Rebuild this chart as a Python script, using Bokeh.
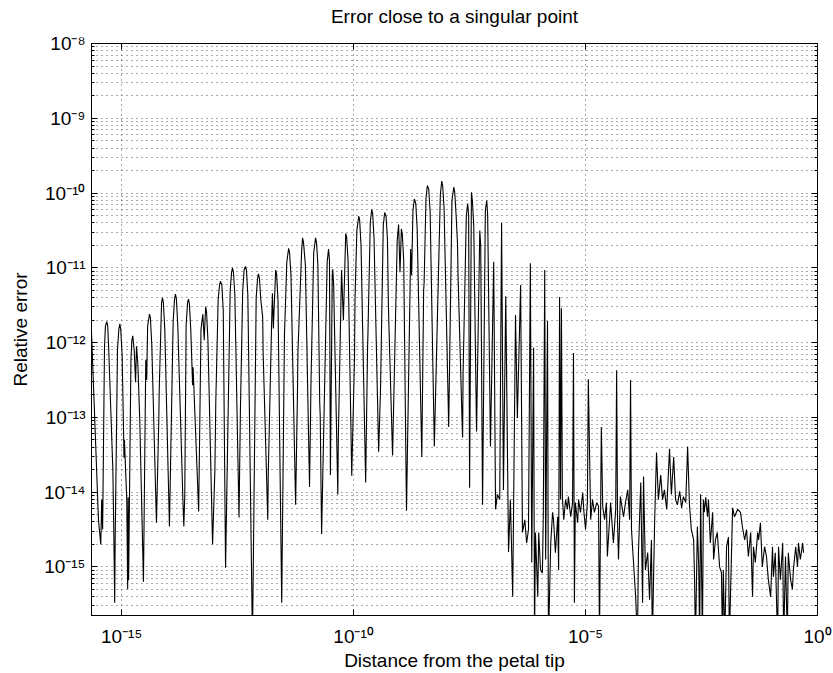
from bokeh.plotting import figure
from bokeh.models import FixedTicker, LogAxis, Range1d
from bokeh.embed import file_html
from bokeh.resources import INLINE

# ---- data (log10 of distance, log10 of relative error) ----
# oscillating part (distance < ~1e-6)
arch_dist_exp = [
    -15.65, -15.58, -15.50, -15.45, -15.43, -15.41, -15.37, -15.35, -15.32, -15.30, -15.28,
    -15.19, -15.17, -15.15, -15.14, -15.09, -15.06, -15.04, -15.02, -14.99,
    -14.96, -14.95, -14.94, -14.89, -14.87, -14.86, -14.85,
    -14.80, -14.78, -14.76, -14.73, -14.70, -14.68, -14.65, -14.61, -14.53,
    -14.48, -14.46, -14.44, -14.40, -14.38, -14.35, -14.25, -14.20, -14.19,
    -14.14, -14.12, -14.10, -14.07, -13.97, -13.89, -13.86, -13.84, -13.82, -13.79,
    -13.68, -13.66, -13.64, -13.61, -13.58, -13.56, -13.54, -13.51, -13.47, -13.46,
    -13.34, -13.29, -13.25, -13.22, -13.19, -13.17, -13.14, -13.04, -12.99, -12.97,
    -12.92, -12.89, -12.87, -12.84, -12.81, -12.76, -12.66, -12.63, -12.61, -12.59, -12.56,
    -12.47, -12.44, -12.39, -12.36, -12.33, -12.31, -12.28, -12.18,
    -12.10, -12.07, -12.05, -12.03, -12.00, -11.96, -11.95, -11.85, -11.84,
    -11.77, -11.75, -11.73, -11.68, -11.66, -11.63, -11.55, -11.49, -11.48,
    -11.44, -11.40, -11.38, -11.35, -11.25, -11.21, -11.20,
    -11.12, -11.10, -11.08, -11.04, -10.95, -10.93, -10.92,
    -10.86, -10.82, -10.80, -10.77, -10.73, -10.72, -10.69,
    -10.57, -10.54, -10.52, -10.50, -10.46, -10.45, -10.43, -10.34, -10.33,
    -10.26, -10.22, -10.17, -10.15, -10.12, -10.04, -9.98, -9.97,
    -9.93, -9.89, -9.87, -9.84, -9.74, -9.70, -9.69,
    -9.64, -9.61, -9.59, -9.56, -9.46, -9.42, -9.41,
    -9.36, -9.33, -9.30, -9.27, -9.25, -9.24, -9.16,
    -9.06, -9.03, -9.00, -8.97, -8.95, -8.92, -8.86,
    -8.78, -8.77, -8.75, -8.72, -8.69, -8.66, -8.63, -8.53, -8.49, -8.48,
    -8.44, -8.41, -8.38, -8.35, -8.26, -8.13, -8.10, -8.08, -8.05, -7.95,
    -7.88, -7.84, -7.82, -7.79, -7.76, -7.75, -7.67, -7.65, -7.64,
    -7.57, -7.54, -7.52, -7.50, -7.46, -7.44, -7.41, -7.35, -7.28, -7.26, -7.22,
    -7.16, -7.13, -7.11, -7.05, -6.98, -6.94, -6.90, -6.85, -6.81, -6.77, -6.72,
    -6.66, -6.62, -6.57, -6.51, -6.47, -6.40, -6.36, -6.31, -6.27, -6.23, -6.19,
    -6.16, -6.12,
]
arch_err_exp = [
    -11.86, -13.03, -14.37, -14.70, -14.10, -14.50, -12.07, -11.78, -11.72, -11.78, -12.07,
    -13.70, -14.50, -15.48, -14.64, -12.10, -11.82, -11.75, -11.82, -12.17,
    -13.14, -13.54, -13.30, -14.10, -15.30, -14.07, -15.18,
    -12.23, -11.97, -11.91, -12.10, -12.53, -12.05, -12.30, -13.03, -15.20,
    -12.23, -12.50, -11.78, -11.62, -11.67, -12.04, -14.41, -13.06, -12.63,
    -11.47, -11.40, -11.47, -11.83, -14.46, -11.72, -11.42, -11.35, -11.42, -11.77,
    -14.10, -14.46, -14.06, -11.77, -11.47, -11.42, -11.48, -11.83, -12.57, -12.33,
    -14.26, -11.83, -11.62, -11.97, -11.52, -11.59, -11.97, -14.70, -13.70, -12.77,
    -11.43, -11.23, -11.18, -11.23, -11.57, -15.01, -11.30, -11.06, -11.00, -11.06, -11.36,
    -14.34, -12.90, -11.30, -11.03, -10.98, -11.03, -11.36, -16.00,
    -11.40, -11.14, -11.08, -11.14, -11.43, -11.66, -12.14, -14.37, -13.77,
    -11.81, -11.34, -11.81, -11.03, -11.08, -11.43, -15.48, -11.88, -11.70,
    -10.92, -10.74, -10.80, -11.10, -14.17, -12.67, -12.13,
    -10.77, -10.60, -10.66, -10.96, -13.93, -13.06, -12.57,
    -10.80, -10.60, -10.66, -10.96, -12.81, -12.97, -14.56,
    -10.92, -10.75, -10.90, -13.77, -11.10, -11.02, -11.23, -14.03, -13.30,
    -11.03, -11.70, -10.54, -10.59, -10.90, -13.78, -12.19, -11.43,
    -10.50, -10.31, -10.36, -10.70, -13.87, -12.10, -11.86,
    -10.39, -10.22, -10.27, -10.60, -13.46, -12.63, -12.26,
    -10.43, -10.26, -10.31, -10.63, -11.50, -11.74, -13.51,
    -10.63, -10.42, -11.06, -10.48, -10.55, -10.90, -14.25,
    -11.16, -10.75, -11.10, -10.23, -10.08, -10.14, -10.47, -13.53, -11.30, -11.20,
    -10.07, -9.90, -9.95, -10.26, -13.39, -10.02, -9.84, -9.90, -10.20, -13.13,
    -10.10, -9.92, -9.99, -10.30, -10.68, -11.06, -12.87, -13.27, -12.41,
    -10.30, -10.14, -10.30, -13.94, -9.99, -10.10, -10.43, -13.19, -10.50, -10.70, -14.17,
    -10.23, -10.10, -10.30, -13.39, -10.92, -14.23, -14.03, -14.10, -10.40, -13.97, -11.38,
    -14.80, -14.10, -15.40, -11.63, -13.01, -11.23, -14.54, -14.37, -14.68, -14.50, -10.94,
    -14.94, -12.07,
]
# noisy part (distance > ~1e-6)
noise_dist_exp = [
    -6.10, -6.08, -6.03, -6.01, -5.97, -5.93, -5.91, -5.88, -5.86, -5.82, -5.80,
    -5.75, -5.71, -5.69, -5.65, -5.60, -5.58, -5.56, -5.54, -5.52, -5.50, -5.47,
    -5.43, -5.39, -5.37, -5.32, -5.28, -5.26, -5.24, -5.22, -5.17, -5.15, -5.11,
    -5.06, -5.04, -5.00, -4.96, -4.94, -4.89, -4.85, -4.81, -4.76, -4.72, -4.70,
    -4.66, -4.63, -4.59, -4.55, -4.53, -4.46, -4.40, -4.35, -4.33, -4.31, -4.29,
    -4.25, -4.18, -4.14, -4.09, -4.05, -4.03, -4.01, -3.97, -3.92, -3.88, -3.86,
    -3.81, -3.77, -3.75, -3.71, -3.66, -3.62, -3.58, -3.56, -3.51, -3.47, -3.43,
    -3.38, -3.34, -3.30, -3.25, -3.19, -3.15, -3.10, -3.06, -3.02, -2.97, -2.93,
    -2.89, -2.84, -2.80, -2.76, -2.72, -2.67, -2.65, -2.63, -2.59, -2.56, -2.54,
    -2.52, -2.48, -2.46, -2.44, -2.41, -2.37, -2.35, -2.31, -2.26, -2.24, -2.20,
    -2.16, -2.11, -2.07, -2.05, -2.03, -2.00, -1.96, -1.92, -1.90, -1.83, -1.79,
    -1.72, -1.66, -1.62, -1.57, -1.53, -1.49, -1.44, -1.40, -1.38, -1.34, -1.29,
    -1.27, -1.23, -1.19, -1.14, -1.10, -1.06, -1.01, -0.97, -0.95, -0.91, -0.86,
    -0.84, -0.80, -0.75, -0.73, -0.69, -0.65, -0.63, -0.58, -0.54, -0.52, -0.47,
    -0.43, -0.41, -0.37, -0.32, -0.30,
]
noise_err_exp = [
    -16.00, -14.54, -15.40, -14.54, -15.04, -15.08, -14.27, -11.03, -14.90, -11.71, -16.00,
    -14.68, -14.27, -14.37, -14.81, -14.33, -15.04, -11.39, -14.10, -11.54, -14.06, -14.37,
    -14.10, -14.23, -14.06, -14.33, -14.14, -12.14, -15.48, -14.14, -14.41, -14.10, -14.27,
    -14.01, -14.23, -14.50, -14.14, -12.49, -14.37, -14.10, -14.27, -14.14, -14.19, -16.00,
    -13.13, -14.19, -14.37, -14.14, -14.86, -14.14, -14.68, -14.23, -12.37, -14.41, -14.90,
    -14.06, -14.33, -14.14, -13.97, -14.37, -12.50, -14.50, -14.90, -15.40, -16.00, -14.81,
    -13.87, -15.48, -13.79, -15.04, -14.81, -15.44, -14.64, -16.00, -14.37, -13.47, -14.10,
    -13.77, -14.10, -13.97, -14.23, -13.42, -14.03, -13.53, -14.10, -14.17, -13.99, -14.21,
    -14.06, -14.14, -13.39, -14.17, -14.50, -14.64, -15.17, -16.00, -14.46, -15.00, -16.00,
    -14.03, -16.00, -14.10, -14.27, -14.07, -14.33, -14.10, -14.68, -14.27, -14.90, -14.64,
    -14.54, -15.00, -15.08, -16.00, -15.04, -16.00, -14.73, -14.60, -16.00, -14.21, -14.33,
    -14.23, -14.27, -14.46, -14.64, -14.50, -14.86, -14.54, -15.40, -14.73, -14.94, -14.54,
    -14.64, -14.41, -15.00, -14.73, -14.86, -15.17, -15.40, -14.73, -15.13, -14.81, -16.00,
    -14.73, -15.17, -14.68, -16.00, -14.86, -16.00, -14.81, -15.17, -15.30, -15.04, -14.73,
    -15.00, -14.68, -14.90, -14.68, -14.81,
]

title_text = "Error close to a singular point"
x_label = "Distance from the petal tip"
y_label = "Relative error"

x_tick_exp = [-15, -10, -5, 0]
x_tick_labels = ["10\u207b\u00b9\u2075", "10\u207b\u00b9\u2070", "10\u207b\u2075", "10\u2070"]
y_tick_exp = [-15, -14, -13, -12, -11, -10, -9, -8]
y_tick_labels = ["10\u207b\u00b9\u2075", "10\u207b\u00b9\u2074", "10\u207b\u00b9\u00b3",
                 "10\u207b\u00b9\u00b2", "10\u207b\u00b9\u00b9", "10\u207b\u00b9\u2070",
                 "10\u207b\u2079", "10\u207b\u2078"]

x_lo_exp, x_hi_exp = -15.65, 0.0
y_lo_exp, y_hi_exp = -15.65, -8.0

dist = [10.0 ** e for e in arch_dist_exp + noise_dist_exp]
err = [10.0 ** e for e in arch_err_exp + noise_err_exp]

x_ticks = [10.0 ** e for e in x_tick_exp]
y_ticks = [10.0 ** e for e in y_tick_exp]
y_minor = [k * 10.0 ** e for e in range(-16, -8) for k in range(2, 10)]

FONT = "Liberation Sans"

p = figure(width=833, height=673, x_axis_type="log", y_axis_type="log",
           x_range=Range1d(10.0 ** x_lo_exp, 10.0 ** x_hi_exp),
           y_range=Range1d(10.0 ** y_lo_exp, 10.0 ** y_hi_exp),
           output_backend="svg", toolbar_location=None,
           min_border_left=91, min_border_right=16, min_border_top=43, min_border_bottom=57)

p.line(dist, err, line_color="black", line_width=1.1)

xt = FixedTicker(ticks=x_ticks, minor_ticks=[])
yt = FixedTicker(ticks=y_ticks, minor_ticks=y_minor)

p.xaxis[0].ticker = xt
p.yaxis[0].ticker = yt
p.xaxis[0].major_label_overrides = {t: l for t, l in zip(x_ticks, x_tick_labels)}
p.yaxis[0].major_label_overrides = {t: l for t, l in zip(y_ticks, y_tick_labels)}

for ax in (p.xaxis[0], p.yaxis[0]):
    ax.major_label_text_font = FONT
    ax.major_label_text_font_size = "19px"
    ax.major_label_text_color = "black"
    ax.axis_label_text_font = FONT
    ax.axis_label_text_font_size = "19px"
    ax.axis_label_text_font_style = "normal"
    ax.axis_label_text_color = "black"
    ax.axis_line_color = "black"
    ax.major_tick_in = 6
    ax.major_tick_out = 0
    ax.minor_tick_in = 3
    ax.minor_tick_out = 0
    ax.major_tick_line_color = "black"
    ax.minor_tick_line_color = "black"

p.xaxis.axis_label = x_label
p.yaxis.axis_label = y_label
p.xaxis.major_label_standoff = 10
p.yaxis.major_label_standoff = 6
p.xaxis.axis_label_standoff = 0
p.yaxis.axis_label_standoff = 10

# mirrored tick axes (top and right) without tick labels; the top one carries the title
top = LogAxis(ticker=FixedTicker(ticks=x_ticks, minor_ticks=[]))
right = LogAxis(ticker=FixedTicker(ticks=y_ticks, minor_ticks=y_minor))
for ax in (top, right):
    ax.major_label_text_font_size = "1px"
    ax.major_label_text_alpha = 0
    ax.major_label_standoff = 0
    ax.major_tick_in = 6
    ax.major_tick_out = 0
    ax.minor_tick_in = 3
    ax.minor_tick_out = 0
    ax.axis_line_color = "black"
    ax.major_tick_line_color = "black"
    ax.minor_tick_line_color = "black"
top.axis_label = title_text
top.axis_label_standoff = 17
top.axis_label_text_font = FONT
top.axis_label_text_font_size = "19px"
top.axis_label_text_font_style = "normal"
top.axis_label_text_color = "black"
p.add_layout(top, "above")
p.add_layout(right, "right")

p.xgrid.ticker = xt
p.ygrid.ticker = yt
p.xgrid.grid_line_color = "#555555"
p.xgrid.grid_line_dash = "1 4"
p.ygrid.grid_line_color = "#555555"
p.ygrid.grid_line_dash = "1 4"
p.ygrid.minor_grid_line_color = "#555555"
p.ygrid.minor_grid_line_dash = "1 4"

p.outline_line_color = "black"
p.background_fill_color = "white"
p.border_fill_color = "white"

open("out.html", "w").write(file_html(p, INLINE))
